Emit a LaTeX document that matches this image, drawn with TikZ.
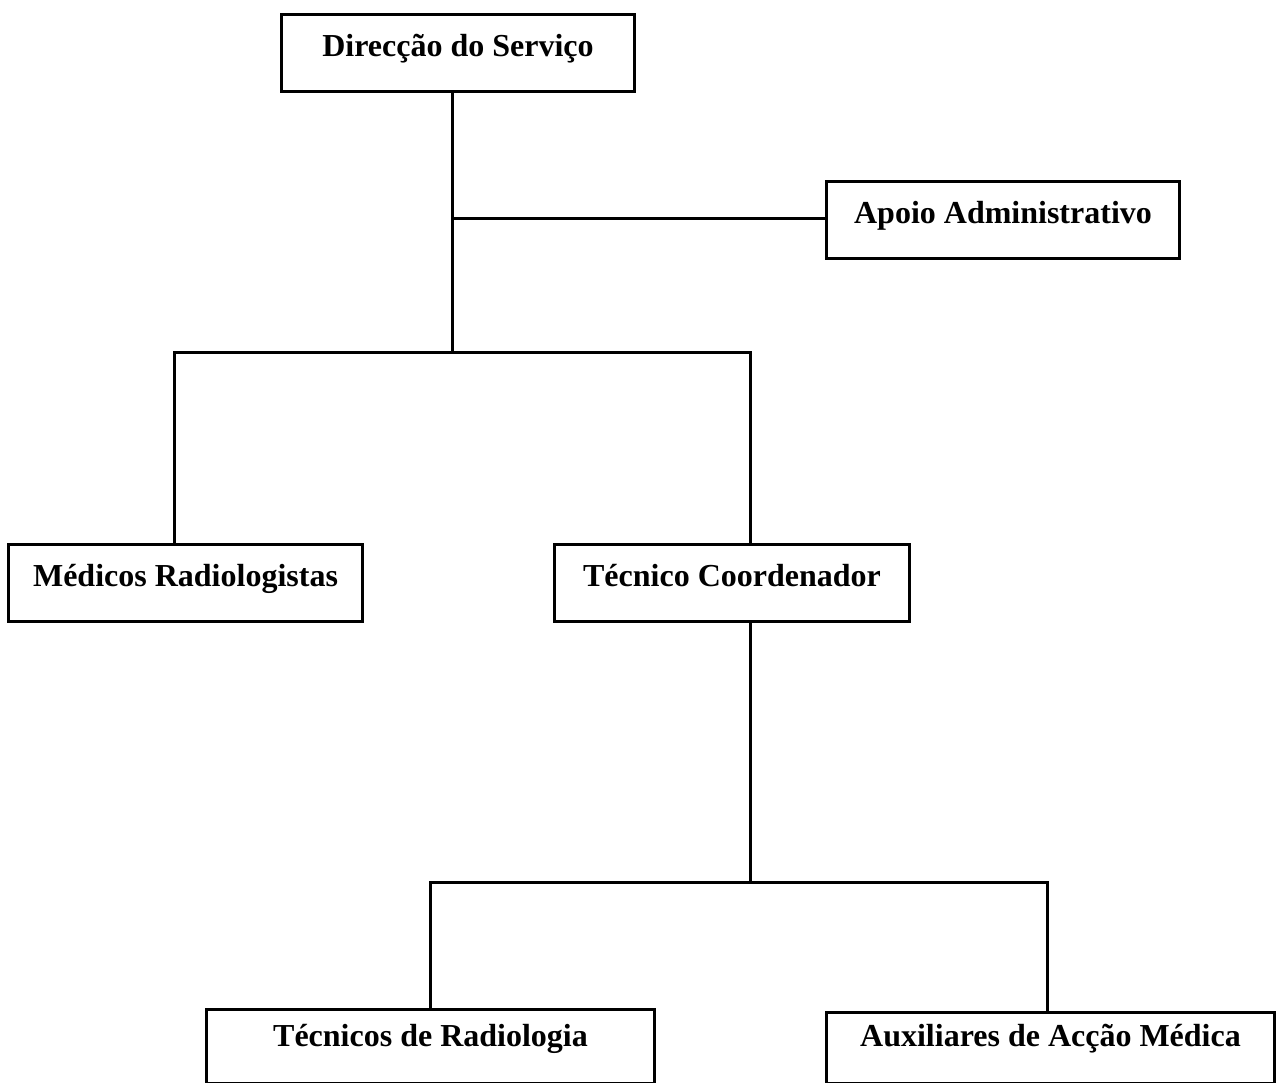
\documentclass[tikz,border=0pt]{standalone}
\usepackage{fontspec}
\setmainfont{Liberation Serif}
\begin{document}
\begin{tikzpicture}[x=1pt,y=-1pt,
  orgbox/.style={draw, line width=3pt, inner sep=0pt, anchor=north west,
    font=\fontsize{32}{38}\selectfont\bfseries, text height=42pt, text depth=35pt},
  link/.style={line width=3pt}]
\useasboundingbox (0,0) rectangle (1278,1083);
\node[orgbox, minimum width=353pt] (dir) at (280,13) {Direcção do Serviço};
\node[orgbox, minimum width=353pt] (apoio) at (825,180) {Apoio Administrativo};
\node[orgbox, minimum width=354pt] (med) at (7,543) {Médicos Radiologistas};
\node[orgbox, minimum width=355pt] (coord) at (553,543) {Técnico Coordenador};
\node[orgbox, minimum width=448pt, text height=37pt, text depth=37pt] (tec) at (205,1008) {Técnicos de Radiologia};
\node[orgbox, minimum width=448pt, text height=34pt, text depth=37pt] (aux) at (825,1011) {Auxiliares de Acção Médica};
\coordinate (j1) at (452,219);
\coordinate (j2) at (452,353);
\coordinate (j3) at (750,882);
\coordinate (l1) at (174,353);
\coordinate (r1) at (750,353);
\coordinate (l2) at (430,882);
\coordinate (r2) at (1047,882);
\draw[link] (dir.south -| j1) -- (j2);
\draw[link] (j1) -- (apoio.west |- j1);
\draw[link, line cap=rect] (l1) -- (r1);
\draw[link] (l1) -- (med.north -| l1);
\draw[link] (r1) -- (coord.north -| r1);
\draw[link] (coord.south -| j3) -- (j3);
\draw[link, line cap=rect] (l2) -- (r2);
\draw[link] (l2) -- (tec.north -| l2);
\draw[link] (r2) -- (aux.north -| r2);
\end{tikzpicture}
\end{document}
